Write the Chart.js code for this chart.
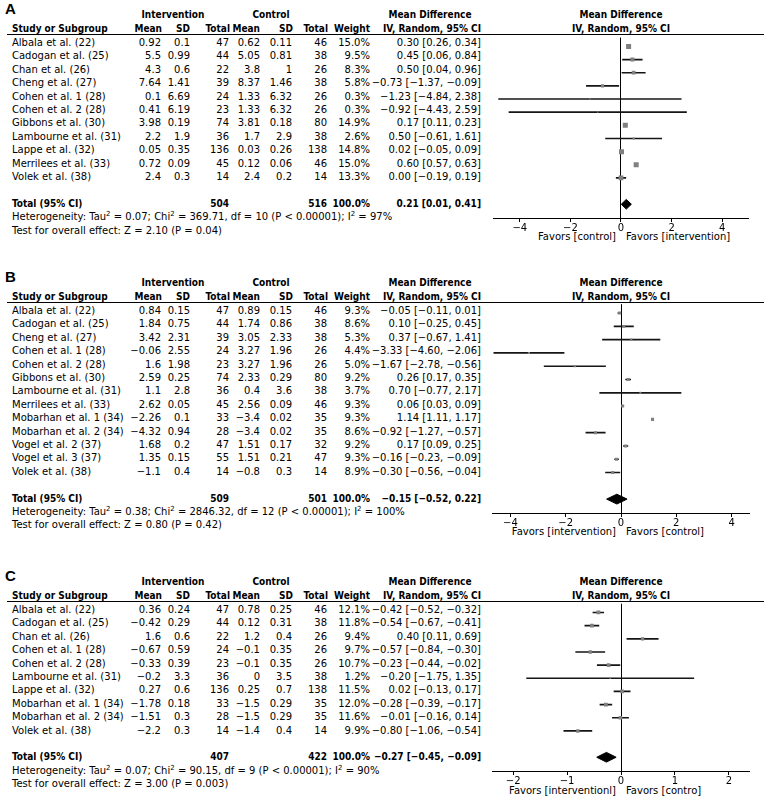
<!DOCTYPE html>
<html><head><meta charset="utf-8">
<script src="https://cdn.jsdelivr.net/npm/chart.js@4/dist/chart.umd.min.js"></script>
<style>
html,body{margin:0;padding:0;background:#fff;}
body{width:764px;height:797px;position:relative;overflow:hidden;font-family:"DejaVu Sans",sans-serif;font-size:10px;color:#000;}
.t{position:absolute;white-space:nowrap;line-height:14px;height:14px;}
.b{font-family:"DejaVu Sans Condensed","DejaVu Sans",sans-serif;font-weight:bold;}
.hl{position:absolute;height:1px;background:#000;}
.lab{position:absolute;font-family:"Liberation Sans",Arial,sans-serif;font-weight:bold;font-size:15px;line-height:16px;}
canvas{position:absolute;}
sup{font-size:7px;vertical-align:4px;line-height:0;}
</style></head><body>
<script>
// ---------------- Panel A ----------------
const studiesA = ["Albala et al. (22)","Cadogan et al. (25)","Chan et al. (26)","Cheng et al. (27)","Cohen et al. 1 (28)","Cohen et al. 2 (28)","Gibbons et al. (30)","Lambourne et al. (31)","Lappe et al. (32)","Merrilees et al. (33)","Volek et al. (38)"];
const intMeanA = [0.92,5.5,4.3,7.64,0.1,0.41,3.98,2.2,0.05,0.72,2.4];
const intSDA   = [0.1,0.99,0.6,1.41,6.69,6.19,0.19,1.9,0.35,0.09,0.3];
const intNA    = [47,44,22,39,24,23,74,36,136,45,14];
const ctlMeanA = [0.62,5.05,3.8,8.37,1.33,1.33,3.81,1.7,0.03,0.12,2.4];
const ctlSDA   = [0.11,0.81,1,1.46,6.32,6.32,0.18,2.9,0.26,0.06,0.2];
const ctlNA    = [46,38,26,38,26,26,80,38,138,46,14];
const weightA  = [15.0,9.5,8.3,5.8,0.3,0.3,14.9,2.6,14.8,15.0,13.3];
const mdA      = [0.30,0.45,0.50,-0.73,-1.23,-0.92,0.17,0.50,0.02,0.60,0.00];
const loA      = [0.26,0.06,0.04,-1.37,-4.84,-4.43,0.11,-0.61,-0.05,0.57,-0.19];
const hiA      = [0.34,0.84,0.96,-0.09,2.38,2.59,0.23,1.61,0.09,0.63,0.19];
const totalA   = [0.21,0.01,0.41];
const hetA     = {tau2:"0.07", chi2:"369.71", df:10, p:"< 0.00001", i2:"97%"};
const testA    = {z:"2.10", p:"0.04"};
const ticksA   = [-4,-2,0,2,4];
const tickLabelsA = ["−4","−2","0","2","4"];

// ---------------- Panel B ----------------
const studiesB = ["Albala et al. (22)","Cadogan et al. (25)","Cheng et al. (27)","Cohen et al. 1 (28)","Cohen et al. 2 (28)","Gibbons et al. (30)","Lambourne et al. (31)","Merrilees et al. (33)","Mobarhan et al. 1 (34)","Mobarhan et al. 2 (34)","Vogel et al. 2 (37)","Vogel et al. 3 (37)","Volek et al. (38)"];
const intMeanB = [0.84,1.84,3.42,-0.06,1.6,2.59,1.1,2.62,-2.26,-4.32,1.68,1.35,-1.1];
const intSDB   = [0.15,0.75,2.31,2.55,1.98,0.25,2.8,0.05,0.1,0.94,0.2,0.15,0.4];
const intNB    = [47,44,39,24,23,74,36,45,33,28,47,55,14];
const ctlMeanB = [0.89,1.74,3.05,3.27,3.27,2.33,0.4,2.56,-3.4,-3.4,1.51,1.51,-0.8];
const ctlSDB   = [0.15,0.86,2.33,1.96,1.96,0.29,3.6,0.09,0.02,0.02,0.17,0.21,0.3];
const ctlNB    = [46,38,38,26,26,80,38,46,35,35,32,47,14];
const weightB  = [9.3,8.6,5.3,4.4,5.0,9.2,3.7,9.3,9.3,8.6,9.2,9.3,8.9];
const mdB      = [-0.05,0.10,0.37,-3.33,-1.67,0.26,0.70,0.06,1.14,-0.92,0.17,-0.16,-0.30];
const loB      = [-0.11,-0.25,-0.67,-4.60,-2.78,0.17,-0.77,0.03,1.11,-1.27,0.09,-0.23,-0.56];
const hiB      = [0.01,0.45,1.41,-2.06,-0.56,0.35,2.17,0.09,1.17,-0.57,0.25,-0.09,-0.04];
const totalB   = [-0.15,-0.52,0.22];
const hetB     = {tau2:"0.38", chi2:"2846.32", df:12, p:"< 0.00001", i2:"100%"};
const testB    = {z:"0.80", p:"0.42"};
const ticksB   = [-4,-2,0,2,4];
const tickLabelsB = ["−4","−2","0","2","4"];

// ---------------- Panel C ----------------
const studiesC = ["Albala et al. (22)","Cadogan et al. (25)","Chan et al. (26)","Cohen et al. 1 (28)","Cohen et al. 2 (28)","Lambourne et al. (31)","Lappe et al. (32)","Mobarhan et al. 1 (34)","Mobarhan et al. 2 (34)","Volek et al. (38)"];
const intMeanC = [0.36,-0.42,1.6,-0.67,-0.33,-0.2,0.27,-1.78,-1.51,-2.2];
const intSDC   = [0.24,0.29,0.6,0.59,0.39,3.3,0.6,0.18,0.3,0.3];
const intNC    = [47,44,22,24,23,36,136,33,28,14];
const ctlMeanC = [0.78,0.12,1.2,-0.1,-0.1,0,0.25,-1.5,-1.5,-1.4];
const ctlSDC   = [0.25,0.31,0.4,0.35,0.35,3.5,0.7,0.29,0.29,0.4];
const ctlNC    = [46,38,26,26,26,38,138,35,35,14];
const weightC  = [12.1,11.8,9.4,9.7,10.7,1.2,11.5,12.0,11.6,9.9];
const mdC      = [-0.42,-0.54,0.40,-0.57,-0.23,-0.20,0.02,-0.28,-0.01,-0.80];
const loC      = [-0.52,-0.67,0.11,-0.84,-0.44,-1.75,-0.13,-0.39,-0.16,-1.06];
const hiC      = [-0.32,-0.41,0.69,-0.30,-0.02,1.35,0.17,-0.17,0.14,-0.54];
const totalC   = [-0.27,-0.45,-0.09];
const hetC     = {tau2:"0.07", chi2:"90.15", df:9, p:"< 0.00001", i2:"90%"};
const testC    = {z:"3.00", p:"0.003"};
const ticksC   = [-2,-1,0,1,2];
const tickLabelsC = ["−2","−1","0","1","2"];

// ---------------- layout ----------------
const ROW_H = 13.4;
const panels = [
  {label:"A", y0:43, names:studiesA, im:intMeanA, isd:intSDA, inn:intNA, cm:ctlMeanA, csd:ctlSDA, cn:ctlNA, w:weightA, md:mdA, lo:loA, hi:hiA, tot:totalA, het:hetA, test:testA, ticks:ticksA, tl:tickLabelsA, xr:5.04, box:1.3, favL:"Favors [control]", favR:"Favors [intervention]"},
  {label:"B", y0:311, names:studiesB, im:intMeanB, isd:intSDB, inn:intNB, cm:ctlMeanB, csd:ctlSDB, cn:ctlNB, w:weightB, md:mdB, lo:loB, hi:hiB, tot:totalB, het:hetB, test:testB, ticks:ticksB, tl:tickLabelsB, xr:4.66, box:1.0, favL:"Favors [intervention]", favR:"Favors [control]"},
  {label:"C", y0:610, names:studiesC, im:intMeanC, isd:intSDC, inn:intNC, cm:ctlMeanC, csd:ctlSDC, cn:ctlNC, w:weightC, md:mdC, lo:loC, hi:hiC, tot:totalC, het:hetC, test:testC, ticks:ticksC, tl:tickLabelsC, xr:2.38, box:1.08, favL:"Favors [interventionl]", favR:"Favors [contro]"}
];

const COL = {im:161, isd:190, inn:229, cm:260, csd:292, cn:327, w:370, ci:481};
const PLOT_L = 490, PLOT_W = 262, ZERO_X = PLOT_L + PLOT_W/2;

function num(v){ return (v<0?"−":"") + String(Math.abs(v)); }
function f2(v){ return (v<0?"−":"") + Math.abs(v).toFixed(2); }
function ciStr(m,l,h){ return f2(m)+" ["+f2(l)+", "+f2(h)+"]"; }

function txt(html, x, yc, align, cls){
  const d = document.createElement('div');
  d.className = 't ' + (cls||'');
  d.innerHTML = html;
  d.style.top = (yc-7)+'px';
  if(align==='r'){ d.style.left=(x-300)+'px'; d.style.width='300px'; d.style.textAlign='right'; }
  else if(align==='c'){ d.style.left=(x-150)+'px'; d.style.width='300px'; d.style.textAlign='center'; }
  else { d.style.left = x+'px'; }
  document.body.appendChild(d);
}

Chart.defaults.font.family = "DejaVu Sans";

panels.forEach(p=>{
  const n = p.names.length;
  const y0 = p.y0;
  const lineY = y0 - 9;
  const totY = y0 + (n+1)*ROW_H;
  const axisY = totY + 14;

  const L = document.createElement('div');
  L.className='lab'; L.textContent=p.label; L.style.left='5px'; L.style.top=(y0-42)+'px';
  document.body.appendChild(L);

  const h1 = y0-28, h2 = y0-14.5;
  txt("Intervention",173,h1,'c','b');
  txt("Control",271,h1,'c','b');
  txt("Mean Difference",430,h1,'c','b');
  txt("Mean Difference",ZERO_X,h1,'c','b');
  txt("Study or Subgroup",12,h2,'l','b');
  txt("Mean",COL.im+1,h2,'r','b');
  txt("SD",COL.isd,h2,'r','b');
  txt("Total",COL.inn+1,h2,'r','b');
  txt("Mean",COL.cm,h2,'r','b');
  txt("SD",COL.csd+1,h2,'r','b');
  txt("Total",COL.cn+1,h2,'r','b');
  txt("Weight",COL.w,h2,'r','b');
  txt("IV, Random, 95% CI",COL.ci,h2,'r','b');
  txt("IV, Random, 95% CI",ZERO_X,h2,'c','b');
  const hl = document.createElement('div');
  hl.className='hl'; hl.style.left='7px'; hl.style.width='757px'; hl.style.top=lineY+'px';
  document.body.appendChild(hl);

  for(let i=0;i<n;i++){
    const y = y0 + i*ROW_H;
    txt(p.names[i],12,y,'l');
    txt(num(p.im[i]),COL.im,y,'r');
    txt(num(p.isd[i]),COL.isd,y,'r');
    txt(String(p.inn[i]),COL.inn,y,'r');
    txt(num(p.cm[i]),COL.cm,y,'r');
    txt(num(p.csd[i]),COL.csd,y,'r');
    txt(String(p.cn[i]),COL.cn,y,'r');
    txt(p.w[i].toFixed(1)+"%",COL.w,y,'r');
    txt(ciStr(p.md[i],p.lo[i],p.hi[i]),COL.ci,y,'r');
  }
  const sumI = p.inn.reduce((a,b)=>a+b,0), sumC = p.cn.reduce((a,b)=>a+b,0);
  txt("Total (95% CI)",12,totY,'l','b');
  txt(String(sumI),COL.inn,totY,'r','b');
  txt(String(sumC),COL.cn,totY,'r','b');
  txt("100.0%",COL.w,totY,'r','b');
  txt(ciStr(p.tot[0],p.tot[1],p.tot[2]),COL.ci,totY,'r','b');
  txt("Heterogeneity: Tau<sup>2</sup> = "+p.het.tau2+"; Chi<sup>2</sup> = "+p.het.chi2+", df = "+p.het.df+" (P "+p.het.p+"); I<sup>2</sup> = "+p.het.i2,12,totY+ROW_H,'l');
  txt("Test for overall effect: Z = "+p.test.z+" (P = "+p.test.p+")",12,totY+2*ROW_H,'l');

  txt(p.favL, ZERO_X-5, axisY+19.5, 'r');
  txt(p.favR, ZERO_X+5, axisY+19.5, 'l');

  const cv = document.createElement('canvas');
  const H = Math.round(axisY - lineY) + 30;
  cv.width = PLOT_W; cv.height = H;
  cv.style.left = PLOT_L+'px'; cv.style.top = lineY+'px';
  cv.style.width = PLOT_W+'px'; cv.style.height = H+'px';
  document.body.appendChild(cv);
  const tIdx = n+1, dh = 0.37;
  const boxes = p.w.map(w => Math.max(1.3, p.box*Math.sqrt(w)) / Math.SQRT2);
  new Chart(cv, {
    type:'scatter',
    data:{datasets:[
      {type:'scatter', data:p.md.map((v,i)=>({x:v,y:i})), pointStyle:'rect', pointRadius:boxes, pointHoverRadius:boxes, backgroundColor:'#808080', borderWidth:0},
      {type:'line', data:[{x:p.tot[1],y:tIdx},{x:p.tot[0],y:tIdx-dh},{x:p.tot[2],y:tIdx},{x:p.tot[0],y:tIdx+dh},{x:p.tot[1],y:tIdx}],
        fill:'shape', backgroundColor:'#000', borderColor:'#000', borderWidth:1, pointRadius:0, tension:0},
      {type:'bar', indexAxis:'y', data:p.lo.map((l,i)=>({y:i, x:[l,p.hi[i]]})), backgroundColor:'#151515', borderWidth:0, barThickness:1}
    ]},
    options:{
      responsive:false, animation:false, devicePixelRatio:1, events:[],
      layout:{padding:0},
      plugins:{legend:{display:false}, tooltip:{enabled:false}},
      scales:{
        x:{type:'linear', min:-p.xr, max:p.xr, offset:false, grace:0,
          afterBuildTicks:s=>{ s.ticks = p.ticks.map(v=>({value:v})); },
          afterFit:s=>{ s.height = 30; },
          ticks:{callback:(v,i)=>p.tl[i], color:'#000', font:{size:10, family:'DejaVu Sans'}, padding:0, maxRotation:0, autoSkip:false},
          grid:{offset:false, drawOnChartArea:true, color:c=>(c.tick && c.tick.value===0)?'#000':'rgba(0,0,0,0)', tickColor:'#000', tickLength:4, lineWidth:1},
          border:{display:true, color:'#000', width:1}
        },
        y:{type:'linear', display:false, reverse:true, offset:false, grace:0, grid:{offset:false}, min:-9/ROW_H, max:tIdx + 14/ROW_H}
      }
    }
  });
});
</script>
</body></html>
